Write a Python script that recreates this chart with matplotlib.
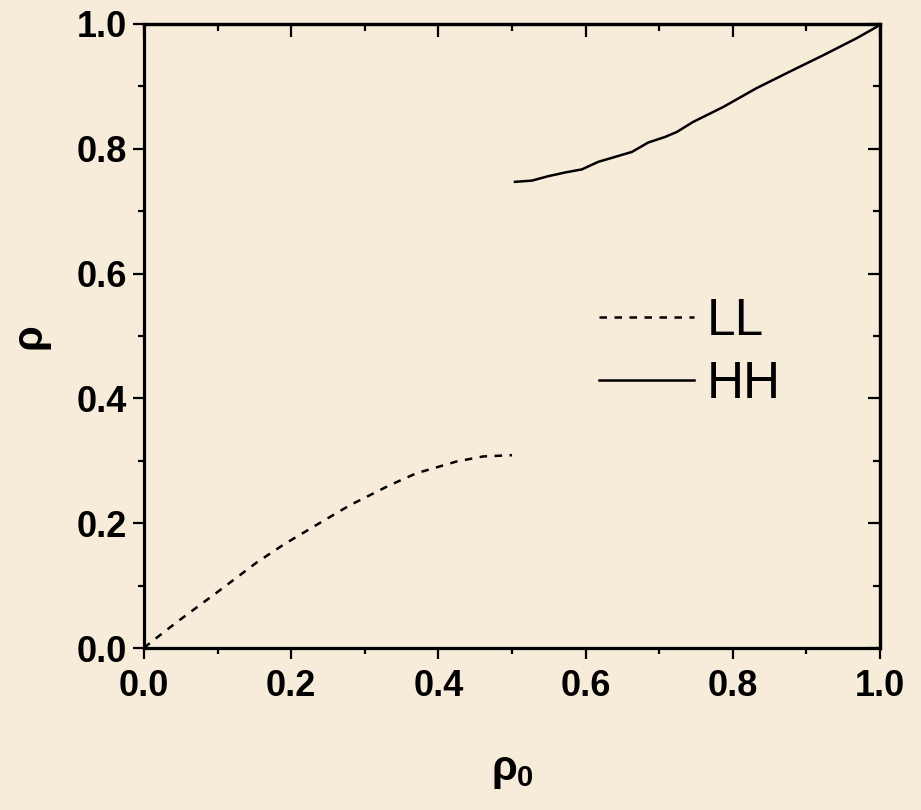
import matplotlib
matplotlib.use("Agg")
import matplotlib.pyplot as plt
from matplotlib.ticker import MultipleLocator

# Data
ll_x = [0.0, 0.008, 0.044, 0.099, 0.153, 0.19, 0.244, 0.28, 0.334, 0.37, 0.425, 0.461, 0.50]
ll_y = [0.0, 0.008, 0.041, 0.089, 0.137, 0.166, 0.204, 0.229, 0.261, 0.280, 0.299, 0.307, 0.309]
hh_x = [0.504, 0.527, 0.549, 0.572, 0.595, 0.617, 0.640, 0.663, 0.685, 0.708, 0.724,
        0.746, 0.787, 0.832, 0.878, 0.923, 0.968, 0.995, 1.0]
hh_y = [0.747, 0.749, 0.756, 0.762, 0.767, 0.779, 0.787, 0.795, 0.810, 0.819, 0.827,
        0.843, 0.867, 0.897, 0.924, 0.950, 0.977, 0.995, 1.0]
series_labels = ["LL", "HH"]
xticks = [0.0, 0.2, 0.4, 0.6, 0.8, 1.0]
yticks = [0.0, 0.2, 0.4, 0.6, 0.8, 1.0]

bg = "#F7ECDA"
plt.rcParams['font.family'] = ['Liberation Sans', 'DejaVu Sans']
plt.rcParams['mathtext.fontset'] = 'custom'
plt.rcParams['mathtext.rm'] = 'Liberation Sans:bold'
plt.rcParams['mathtext.it'] = 'Liberation Sans:bold'
plt.rcParams['mathtext.bf'] = 'Liberation Sans:bold'

fig = plt.figure(figsize=(9.21, 8.10), dpi=100, facecolor=bg)
ax = fig.add_axes([0.1564, 0.2, 0.7991, 0.7704], facecolor=bg)

ax.plot(ll_x, ll_y, color='black', lw=1.8, dashes=(3, 3), label=series_labels[0])
ax.plot(hh_x, hh_y, color='black', lw=1.8, label=series_labels[1])

ax.set_xlim(0, 1)
ax.set_ylim(0, 1)
ax.set_xticks(xticks)
ax.set_yticks(yticks)
ax.set_xticklabels([f"{t:.1f}" for t in xticks])
ax.set_yticklabels([f"{t:.1f}" for t in yticks])
ax.xaxis.set_minor_locator(MultipleLocator(0.1))
ax.yaxis.set_minor_locator(MultipleLocator(0.1))

for s in ax.spines.values():
    s.set_linewidth(2.3)

ax.tick_params(which='major', length=8, width=1.6, labelsize=26)
ax.tick_params(which='minor', length=4.5, width=1.6)
ax.tick_params(axis='x', which='both', direction='out', bottom=True, top=False, pad=7)
ax.tick_params(axis='y', which='both', direction='out', left=True, right=False, pad=4)
for lab in ax.get_xticklabels() + ax.get_yticklabels():
    lab.set_fontweight('bold')

# inward ticks on top and right via secondary axes
secx = ax.secondary_xaxis('top')
secx.set_xticks(xticks)
secx.xaxis.set_minor_locator(MultipleLocator(0.1))
secx.tick_params(which='major', direction='in', length=9, width=1.6, labeltop=False)
secx.tick_params(which='minor', direction='in', length=5, width=1.6)
secx.spines['top'].set_linewidth(2.3)
secy = ax.secondary_yaxis('right')
secy.set_yticks(yticks)
secy.yaxis.set_minor_locator(MultipleLocator(0.1))
secy.tick_params(which='major', direction='in', length=9, width=1.6, labelright=False)
secy.tick_params(which='minor', direction='in', length=5, width=1.6)
secy.spines['right'].set_linewidth(2.3)

ax.set_xlabel(r'$\rho_0$', fontsize=30, labelpad=34)
ax.set_ylabel('ρ', fontsize=30, fontweight='bold', labelpad=20)

leg = ax.legend(loc='upper left', bbox_to_anchor=(0.59, 0.596), frameon=False,
                fontsize=37, handlelength=1.85, handletextpad=0.25, labelspacing=0.28,
                borderaxespad=0)

fig.savefig("out.png", dpi=100, facecolor=bg)
